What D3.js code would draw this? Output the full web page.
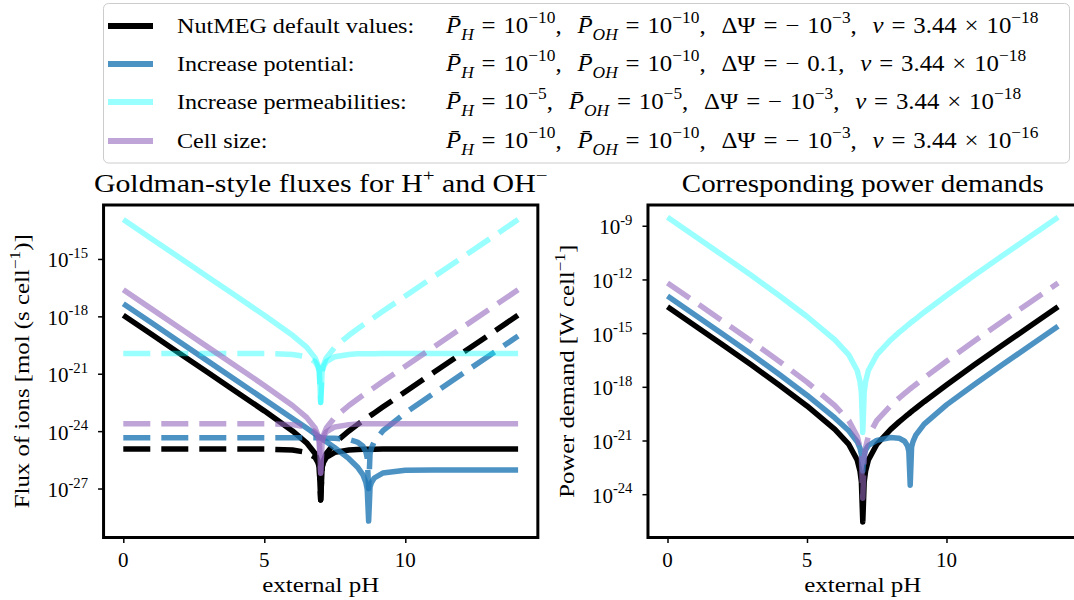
<!DOCTYPE html>
<html><head><meta charset="utf-8">
<script src="https://cdn.jsdelivr.net/npm/d3@7"></script>
<style>
body{margin:0;background:#fff;}
svg{display:block;}
text{font-family:"Liberation Serif","Times New Roman",serif;fill:#000;white-space:pre;}
</style>
</head><body>
<svg id="chart" width="1074" height="600"></svg>
<script>
// ---------------- DATA (log10 values) ----------------
const pH = [0,1,2,3,4,5,6,6.5,6.8,6.9,6.95,7,7.05,7.1,7.2,7.5,8,8.3,8.5,8.6,8.65,8.7,8.75,8.8,8.9,9.2,10,11,12,13,14];

// Flux of ions, log10 [mol (s cell^-1)] : solid = H+, dashed = OH-
const fluxH_default  = [-17.94,-18.94,-19.94,-20.94,-21.94,-22.94,-23.99,-24.61,-25.17,-25.53,-25.85,-27.6,-25.90,-25.63,-25.37,-25.11,-24.99,-24.96,-24.95,-24.95,-24.95,-24.95,-24.95,-24.95,-24.95,-24.94,-24.94,-24.94,-24.94,-24.94,-24.94];
const fluxOH_default = [-24.94,-24.94,-24.94,-24.94,-24.94,-24.94,-24.99,-25.11,-25.37,-25.63,-25.90,-27.6,-25.85,-25.53,-25.17,-24.61,-23.99,-23.66,-23.45,-23.35,-23.30,-23.25,-23.20,-23.15,-23.05,-22.74,-21.94,-20.94,-19.94,-18.94,-17.94];
const fluxH_potential  = [-17.34,-18.34,-19.34,-20.34,-21.34,-22.34,-23.34,-23.84,-24.15,-24.25,-24.30,-24.35,-24.40,-24.45,-24.56,-24.87,-25.44,-25.87,-26.29,-26.67,-27.05,-28.7,-26.92,-26.68,-26.45,-26.19,-26.05,-26.03,-26.03,-26.03,-26.03];
const fluxOH_potential = [-24.34,-24.34,-24.34,-24.34,-24.34,-24.34,-24.34,-24.34,-24.35,-24.35,-24.35,-24.35,-24.35,-24.35,-24.36,-24.37,-24.44,-24.57,-24.79,-25.07,-25.40,-27.0,-25.17,-24.88,-24.55,-23.99,-23.05,-22.03,-21.03,-20.03,-19.03];
const fluxH_perm  = [-12.94,-13.94,-14.94,-15.94,-16.94,-17.94,-18.99,-19.61,-20.17,-20.53,-20.85,-22.5,-20.90,-20.63,-20.37,-20.11,-19.99,-19.96,-19.95,-19.95,-19.95,-19.95,-19.95,-19.95,-19.95,-19.94,-19.94,-19.94,-19.94,-19.94,-19.94];
const fluxOH_perm = [-19.94,-19.94,-19.94,-19.94,-19.94,-19.94,-19.99,-20.11,-20.37,-20.63,-20.90,-22.5,-20.85,-20.53,-20.17,-19.61,-18.99,-18.66,-18.45,-18.35,-18.30,-18.25,-18.20,-18.15,-18.05,-17.74,-16.94,-15.94,-14.94,-13.94,-12.94];
const fluxH_size  = [-16.61,-17.61,-18.61,-19.61,-20.61,-21.61,-22.66,-23.28,-23.84,-24.20,-24.52,-26.2,-24.57,-24.30,-24.04,-23.78,-23.66,-23.63,-23.62,-23.62,-23.62,-23.62,-23.62,-23.62,-23.62,-23.61,-23.61,-23.61,-23.61,-23.61,-23.61];
const fluxOH_size = [-23.61,-23.61,-23.61,-23.61,-23.61,-23.61,-23.66,-23.78,-24.04,-24.30,-24.57,-26.2,-24.52,-24.20,-23.84,-23.28,-22.66,-22.33,-22.12,-22.02,-21.97,-21.92,-21.87,-21.82,-21.72,-21.41,-20.61,-19.61,-18.61,-17.61,-16.61];

// Power demand, log10 [W cell^-1]
const power_default   = [-13.53,-14.60,-15.68,-16.77,-17.90,-19.07,-20.38,-21.22,-22.09,-22.71,-23.31,-25.55,-23.31,-22.71,-22.09,-21.22,-20.38,-19.96,-19.70,-19.57,-19.51,-19.44,-19.38,-19.32,-19.20,-18.83,-17.90,-16.77,-15.68,-14.60,-13.53];
const power_potential = [-12.93,-14.00,-15.08,-16.17,-17.30,-18.47,-19.74,-20.46,-21.07,-21.43,-21.76,-22.7,-21.81,-21.53,-21.28,-20.99,-20.83,-20.87,-21.04,-21.29,-21.60,-23.5,-21.36,-21.06,-20.70,-20.08,-19.01,-17.87,-16.77,-15.69,-14.62];
const power_perm      = [-8.53,-9.60,-10.68,-11.77,-12.90,-14.07,-15.38,-16.22,-17.09,-17.71,-18.31,-20.55,-18.31,-17.71,-17.09,-16.22,-15.38,-14.96,-14.70,-14.57,-14.51,-14.44,-14.38,-14.32,-14.20,-13.83,-12.90,-11.77,-10.68,-9.60,-8.53];
const power_size      = [-12.20,-13.27,-14.35,-15.44,-16.57,-17.74,-19.05,-19.89,-20.76,-21.38,-21.98,-24.22,-21.98,-21.38,-20.76,-19.89,-19.05,-18.63,-18.37,-18.24,-18.18,-18.11,-18.05,-17.99,-17.87,-17.50,-16.57,-15.44,-14.35,-13.27,-12.20];

// Legend content
const scenarioNames = ["NutMEG default values:", "Increase potential:", "Increase permeabilities:", "Cell size:"];
const legendPH   = ["\u221210","\u221210","\u22125","\u221210"];
const legendPOH  = ["\u221210","\u221210","\u22125","\u221210"];
const legendPsi  = ["10","0.1","10","10"];
const legendPsiExp = ["\u22123","","\u22123","\u22123"];
const legendVExp = ["\u221218","\u221218","\u221218","\u221216"];

// Ticks
const xTicks = [0,5,10];
const fluxTickExp  = [-27,-24,-21,-18,-15];
const powerTickExp = [-24,-21,-18,-15,-12,-9];

// ---------------- STYLES ----------------
const colors = ["#000000","#1f77b4","#00ffff","#9467bd"];
const alphas = [1,0.8,0.4,0.6];
const LW = 5.5, DASH = "27,11";
const FONT = 21, MATHFONT = 22.5;

const fluxSeries  = [[fluxH_default,fluxOH_default],[fluxH_potential,fluxOH_potential],[fluxH_perm,fluxOH_perm],[fluxH_size,fluxOH_size]];
const powerSeries = [power_default,power_potential,power_perm,power_size];
const powerDashed = [false,false,false,true];

// ---------------- LAYOUT ----------------
const svg = d3.select("#chart");
const Y0 = 205, Y1 = 537.5;
const xL = d3.scaleLinear().domain([-0.7,14.7]).range([103.56,537.84]);
const xR = d3.scaleLinear().domain([-0.7,14.7]).range([647.97,1077.6]);
const yL = d3.scaleLog().domain([Math.pow(10,-29.56),Math.pow(10,-12.18)]).range([Y1,Y0]);
const yR = d3.scaleLog().domain([Math.pow(10,-26.42),Math.pow(10,-7.84)]).range([Y1,Y0]);

function addRich(textSel, parts, fs){
  let shift = 0;
  parts.forEach(p=>{
    let target=0,size=p.fs||fs,str,it=!!p.it;
    if(p.sup!==undefined){target=-0.45*fs;size=0.7*fs;str=p.sup;}
    else if(p.sub!==undefined){target=0.3*fs;size=0.7*fs;str=p.sub;}
    else {str=p.t;}
    const ts=textSel.append("tspan").attr("dy",target-shift).attr("font-size",size).text(str);
    if(it) ts.attr("font-style","italic");
    shift=target;
  });
}
function fit(sel, ax, target, k){
  const w = sel.node().getBBox().width;
  const s = target ? target/w : k;
  sel.attr("transform",`translate(${ax},0) scale(${s},1) translate(${-ax},0)`);
  return s;
}

const defs = svg.append("defs");

function panel(x, y, tickExp, id, titleParts, titleW, ylabelParts, ylabW, ylabX){
  const [x0,x1] = x.range();
  defs.append("clipPath").attr("id",id).append("rect")
    .attr("x",x0).attr("y",Y0).attr("width",x1-x0).attr("height",Y1-Y0);
  const g = svg.append("g");
  const plot = g.append("g").attr("clip-path",`url(#${id})`);
  const ax = g.append("g").attr("transform",`translate(${x0},0)`)
    .call(d3.axisLeft(y).tickValues(tickExp.map(e=>Math.pow(10,e))).tickSize(5.5).tickFormat(""));
  ax.select(".domain").remove();
  ax.selectAll("line").attr("stroke","#000").attr("stroke-width",1.5);
  const bx = g.append("g").attr("transform",`translate(0,${Y1})`)
    .call(d3.axisBottom(x).tickValues(xTicks).tickSize(5.5).tickFormat(""));
  bx.select(".domain").remove();
  bx.selectAll("line").attr("stroke","#000").attr("stroke-width",1.5);
  tickExp.forEach(e=>{
    const t = g.append("text").attr("x",x0-15.5).attr("y",y(Math.pow(10,e))+8.5)
      .attr("text-anchor","end").attr("font-size",FONT);
    addRich(t,[{t:"10"},{sup:"-"+Math.abs(e)}],FONT);
  });
  xTicks.forEach(v=>{
    g.append("text").attr("x",x(v)).attr("y",567).attr("text-anchor","middle")
      .attr("font-size",FONT).text(v);
  });
  g.append("rect").attr("x",x0).attr("y",Y0).attr("width",x1-x0).attr("height",Y1-Y0)
    .attr("fill","none").attr("stroke","#000").attr("stroke-width",3);
  const cx=(x0+x1)/2;
  const xl = g.append("text").attr("x",cx).attr("y",592).attr("text-anchor","middle").attr("font-size",FONT).text("external pH");
  fit(xl,cx,117);
  const tt = g.append("text").attr("x",cx).attr("y",192).attr("text-anchor","middle").attr("font-size",25);
  addRich(tt,titleParts,25);
  fit(tt,cx,titleW);
  const yg = g.append("g").attr("transform",`translate(${ylabX},${(Y0+Y1)/2}) rotate(-90)`);
  const yt = yg.append("text").attr("x",0).attr("y",0).attr("text-anchor","middle").attr("font-size",FONT);
  addRich(yt,ylabelParts,FONT);
  fit(yt,0,ylabW);
  return plot;
}

const plotL = panel(xL,yL,fluxTickExp,"clipL",
  [{t:"Goldman-style fluxes for H"},{sup:"+"},{t:" and OH"},{sup:"\u2212"}],454,
  [{t:"Flux of ions [mol (s cell"},{sup:"\u22121"},{t:")]"}],274,29);
const plotR = panel(xR,yR,powerTickExp,"clipR",
  [{t:"Corresponding power demands"}],362,
  [{t:"Power demand [W cell"},{sup:"\u22121"},{t:"]"}],253,574);

const lineL = d3.line().x((d,i)=>xL(pH[i])).y(d=>yL(Math.pow(10,d)));
const lineR = d3.line().x((d,i)=>xR(pH[i])).y(d=>yR(Math.pow(10,d)));

fluxSeries.forEach((pair,k)=>{
  pair.forEach((vals,j)=>{
    plotL.append("path").datum(vals).attr("d",lineL)
      .attr("fill","none").attr("stroke",colors[k]).attr("stroke-opacity",alphas[k])
      .attr("stroke-width",LW).attr("stroke-linejoin","round")
      .attr("stroke-dasharray",j===1?DASH:null);
  });
});
powerSeries.forEach((vals,k)=>{
  plotR.append("path").datum(vals).attr("d",lineR)
    .attr("fill","none").attr("stroke",colors[k]).attr("stroke-opacity",alphas[k])
    .attr("stroke-width",LW).attr("stroke-linejoin","round")
    .attr("stroke-dasharray",powerDashed[k]?DASH:null);
});

// ---------------- LEGEND ----------------
const lg = svg.append("g");
lg.append("rect").attr("x",103.5).attr("y",3.5).attr("width",966).attr("height",159.5).attr("rx",5)
  .attr("fill","#fff").attr("fill-opacity",0.8).attr("stroke","#cccccc").attr("stroke-width",1);
const rowY = [26,64,102,141];
const MX = 446;
let mathScale = null;
scenarioNames.forEach((name,i)=>{
  lg.append("line").attr("x1",108).attr("x2",153).attr("y1",rowY[i]).attr("y2",rowY[i])
    .attr("stroke",colors[i]).attr("stroke-opacity",alphas[i]).attr("stroke-width",6);
  const t = lg.append("text").attr("x",177).attr("y",rowY[i]+7).attr("font-size",FONT).text(name);
  fit(t,177,null,1.15);
  const m = lg.append("text").attr("x",MX).attr("y",rowY[i]+7).attr("font-size",MATHFONT)
    .style("word-spacing","1.5px");
  const parts = [{t:"P\u0304",it:true},{sub:"H",it:true},{t:" = 10"},{sup:legendPH[i]},{t:",  "},
    {t:"P\u0304",it:true},{sub:"OH",it:true},{t:" = 10"},{sup:legendPOH[i]},
    {t:",  \u0394\u03A8 = \u2212 "+legendPsi[i]}];
  if(legendPsiExp[i]) parts.push({sup:legendPsiExp[i]});
  parts.push({t:",  "},{t:"v",it:true},{t:" = 3.44 \u00D7 10"},{sup:legendVExp[i]});
  addRich(m,parts,MATHFONT);
  if(mathScale===null) mathScale = fit(m,MX,1040-MX);
  else fit(m,MX,null,mathScale);
});
</script>
</body></html>
